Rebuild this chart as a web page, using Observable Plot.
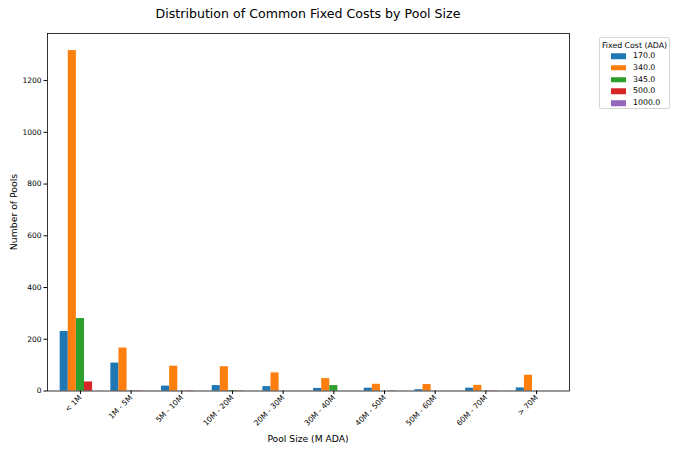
<!DOCTYPE html>
<html>
<head>
<meta charset="utf-8">
<script src="https://cdn.jsdelivr.net/npm/d3@7"></script>
<script src="https://cdn.jsdelivr.net/npm/@observablehq/plot@0.6"></script>
<style>
  html, body { margin: 0; padding: 0; background: #fff; }
  #wrap { position: relative; width: 680px; height: 453px; font-family: "DejaVu Sans", sans-serif; color: #000; overflow: hidden; }
  #wrap svg { position: absolute; left: 0; top: 0; }
  .abs { position: absolute; white-space: nowrap; line-height: 1; }
  #title { font-size: 12.6px; left: 308px; top: 14px; transform: translate(-50%, -50%); }
  #xlabel { font-size: 9.2px; left: 308px; top: 439px; transform: translate(-50%, -50%); }
  #ylabel { font-size: 9.3px; left: 14px; top: 212px; transform: translate(-50%, -50%) rotate(-90deg); }
  #legend { left: 599px; top: 37px; width: 71px; height: 72px; border: 1px solid #d6d6d6; border-radius: 2px; box-sizing: border-box; background: #fff; font-size: 7.8px; }
  #legend .ttl { position: absolute; left: 0; width: 100%; text-align: center; top: 8px; transform: translateY(-50%); }
  #legend .row { position: absolute; left: 0; width: 100%; }
  #legend .sw { position: absolute; left: 11px; width: 15px; height: 5.5px; transform: translateY(-50%); }
  #legend .lb { position: absolute; left: 33px; transform: translateY(-50%); }
</style>
</head>
<body>
<div id="wrap">
  <div id="title" class="abs">Distribution of Common Fixed Costs by Pool Size</div>
  <div id="xlabel" class="abs">Pool Size (M ADA)</div>
  <div id="ylabel" class="abs">Number of Pools</div>
  <div id="legend" class="abs"><div class="ttl">Fixed Cost (ADA)</div></div>
</div>
<script>
// ---- data ----
const categories = ["< 1M", "1M - 5M", "5M - 10M", "10M - 20M", "20M - 30M", "30M - 40M", "40M - 50M", "50M - 60M", "60M - 70M", "> 70M"];
const fixedCosts = ["170.0", "340.0", "345.0", "500.0", "1000.0"];
const palette = ["#1f77b4", "#ff7f0e", "#2ca02c", "#d62728", "#9467bd"];
const cost170  = [230, 108, 19, 21, 17, 10, 11, 5, 11, 12];
const cost340  = [1316, 166, 96, 94, 70, 48, 26, 25, 22, 61];
const cost345  = [280, 1, 0, 2, 0, 21, 0, 0, 1, 0];
const cost500  = [35, 1, 1, 1, 0, 0, 1, 0, 1, 0];
const cost1000 = [0, 0, 0, 0, 0, 0, 0, 0, 0, 0];
const yTicks = [0, 200, 400, 600, 800, 1000, 1200];

const seriesList = [cost170, cost340, cost345, cost500, cost1000];
const barW = 0.8 / seriesList.length;
const rows = [];
categories.forEach((cat, ci) => {
  seriesList.forEach((vals, si) => {
    rows.push({cat, ci, si, cost: fixedCosts[si], value: vals[ci]});
  });
});

const chart = Plot.plot({
  width: 680,
  height: 453,
  marginTop: 33,
  marginBottom: 62.5,
  marginLeft: 47,
  marginRight: 111,
  style: {fontFamily: "DejaVu Sans", fontSize: "7.5px", color: "#000", background: "transparent", overflow: "visible"},
  x: {domain: [-0.65, categories.length - 1 + 0.65], ticks: d3.range(categories.length), tickFormat: i => categories[i], tickRotate: -45, tickSize: 3.5, tickPadding: 2, label: null},
  y: {domain: [0, 1382], ticks: yTicks, tickFormat: d => String(d), tickSize: 3.5, tickPadding: 2.5, label: null},
  color: {domain: fixedCosts, range: palette},
  marks: [
    Plot.rect(rows, {
      x1: d => d.ci + (d.si - seriesList.length / 2) * barW,
      x2: d => d.ci + (d.si - seriesList.length / 2 + 1) * barW,
      y1: 0,
      y2: "value",
      fill: "cost"
    }),
    Plot.frame({stroke: "#000", strokeWidth: 0.8})
  ]
});
document.getElementById("wrap").prepend(chart);

// legend
const legend = document.getElementById("legend");
fixedCosts.forEach((c, i) => {
  const y = 18 + i * 11.8;
  const sw = document.createElement("div");
  sw.className = "sw";
  sw.style.top = y + "px";
  sw.style.background = palette[i];
  const lb = document.createElement("div");
  lb.className = "lb";
  lb.style.top = y + "px";
  lb.textContent = c;
  legend.appendChild(sw);
  legend.appendChild(lb);
});
</script>
</body>
</html>
